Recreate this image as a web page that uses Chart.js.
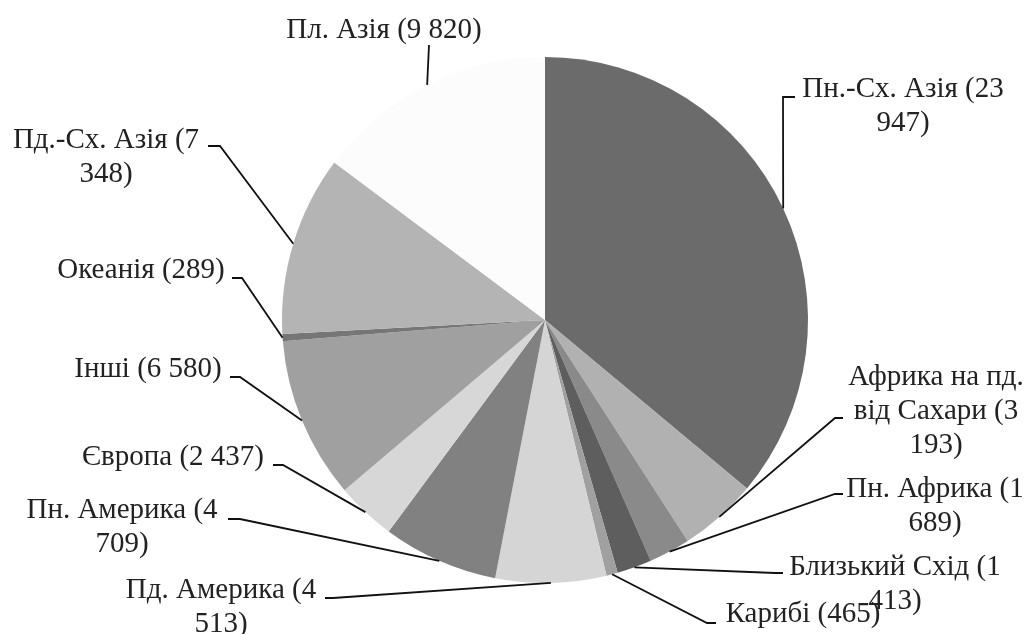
<!DOCTYPE html>
<html lang="uk">
<head>
<meta charset="utf-8">
<script src="https://cdn.jsdelivr.net/npm/chart.js@4.4.1/dist/chart.umd.min.js"></script>
<style>
  html, body { margin: 0; padding: 0; background: #fff; }
  #wrap { width: 1030px; height: 634px; }
</style>
</head>
<body>
<div id="wrap"><canvas id="pie"></canvas></div>
<script>
// slices, clockwise from 12 o'clock
const regions = ['Пн.-Сх. Азія', 'Африка на пд. від Сахари', 'Пн. Африка', 'Близький Схід', 'Карибі',
  'Пд. Америка', 'Пн. Америка', 'Європа', 'Інші', 'Океанія', 'Пд.-Сх. Азія', 'Пл. Азія'];
const values = [23947, 3193, 1689, 1413, 465, 4513, 4709, 2437, 6580, 289, 7348, 9820];
const sliceColors = ['#6b6b6b', '#b1b1b1', '#8a8a8a', '#5e5e5e', '#a0a0a0', '#d5d5d5',
  '#818181', '#d7d7d7', '#a0a0a0', '#767676', '#b4b4b4', '#fcfcfc'];

// label placement, offsets from the pie centre (text anchor, leader elbow, stub end)
const callouts = [
  { tx: 358, ty: -223, ex: 238, ey: -223, sx: 250 },
  { tx: 391, ty: 65, ex: 290, ey: 98, sx: 298 },
  { tx: 390, ty: 177, ex: 290, ey: 174, sx: 298 },
  { tx: 350, ty: 255, ex: 230, ey: 253, sx: 238 },
  { tx: 258, ty: 302, ex: 162, ey: 303, sx: 171 },
  { tx: -324, ty: 278, ex: -212, ey: 278, sx: -220 },
  { tx: -423, ty: 198, ex: -305, ey: 199, sx: -317 },
  { tx: -372, ty: 145, ex: -262, ey: 145, sx: -272 },
  { tx: -397, ty: 57, ex: -305, ey: 57, sx: -315 },
  { tx: -404, ty: -42, ex: -303, ey: -42, sx: -313 },
  { tx: -439, ty: -172, ex: -325, ey: -174, sx: -337 },
  { tx: -161, ty: -282, ex: -116, ey: -275, sx: -116 }
];

const fmt = v => String(v).replace(/\B(?=(\d{3})+(?!\d))/g, ' ');

function wrapText(ctx, text, maxW) {
  const words = text.split(' ');
  const lines = [];
  let cur = '';
  words.forEach(w => {
    const test = cur ? cur + ' ' + w : w;
    if (cur && ctx.measureText(test).width > maxW) {
      lines.push(cur);
      cur = w;
    } else {
      cur = test;
    }
  });
  if (cur) lines.push(cur);
  return lines;
}

const calloutPlugin = {
  id: 'callouts',
  afterDatasetsDraw(chart) {
    const ctx = chart.ctx;
    const meta = chart.getDatasetMeta(0);
    ctx.save();
    ctx.strokeStyle = '#111';
    ctx.lineWidth = 1.8;
    ctx.fillStyle = '#222';
    ctx.font = "29px 'Liberation Serif', 'DejaVu Serif', serif";
    ctx.textAlign = 'center';
    ctx.textBaseline = 'alphabetic';
    meta.data.forEach((arc, i) => {
      const p = arc.getProps(['x', 'y', 'startAngle', 'endAngle', 'outerRadius'], true);
      const mid = (p.startAngle + p.endAngle) / 2;
      const c = callouts[i];
      ctx.beginPath();
      ctx.moveTo(p.x + Math.cos(mid) * p.outerRadius, p.y + Math.sin(mid) * p.outerRadius);
      ctx.lineTo(p.x + c.ex, p.y + c.ey);
      ctx.lineTo(p.x + c.sx, p.y + c.ey);
      ctx.stroke();

      // label text wraps like the Excel label boxes
      const lines = wrapText(ctx, `${regions[i]} (${fmt(values[i])})`, 215);
      lines.forEach((ln, k) => ctx.fillText(ln, p.x + c.tx, p.y + c.ty + k * 34));
    });
    ctx.restore();
  }
};

new Chart(document.getElementById('pie'), {
  type: 'pie',
  data: {
    labels: regions,
    datasets: [{
      data: values,
      backgroundColor: sliceColors,
      borderWidth: 0
    }]
  },
  options: {
    responsive: true,
    maintainAspectRatio: false,
    animation: false,
    layout: { padding: { top: 57, bottom: 51, left: 282, right: 222 } },
    plugins: {
      legend: { display: false },
      tooltip: { enabled: false }
    }
  },
  plugins: [calloutPlugin]
});
</script>
</body>
</html>
